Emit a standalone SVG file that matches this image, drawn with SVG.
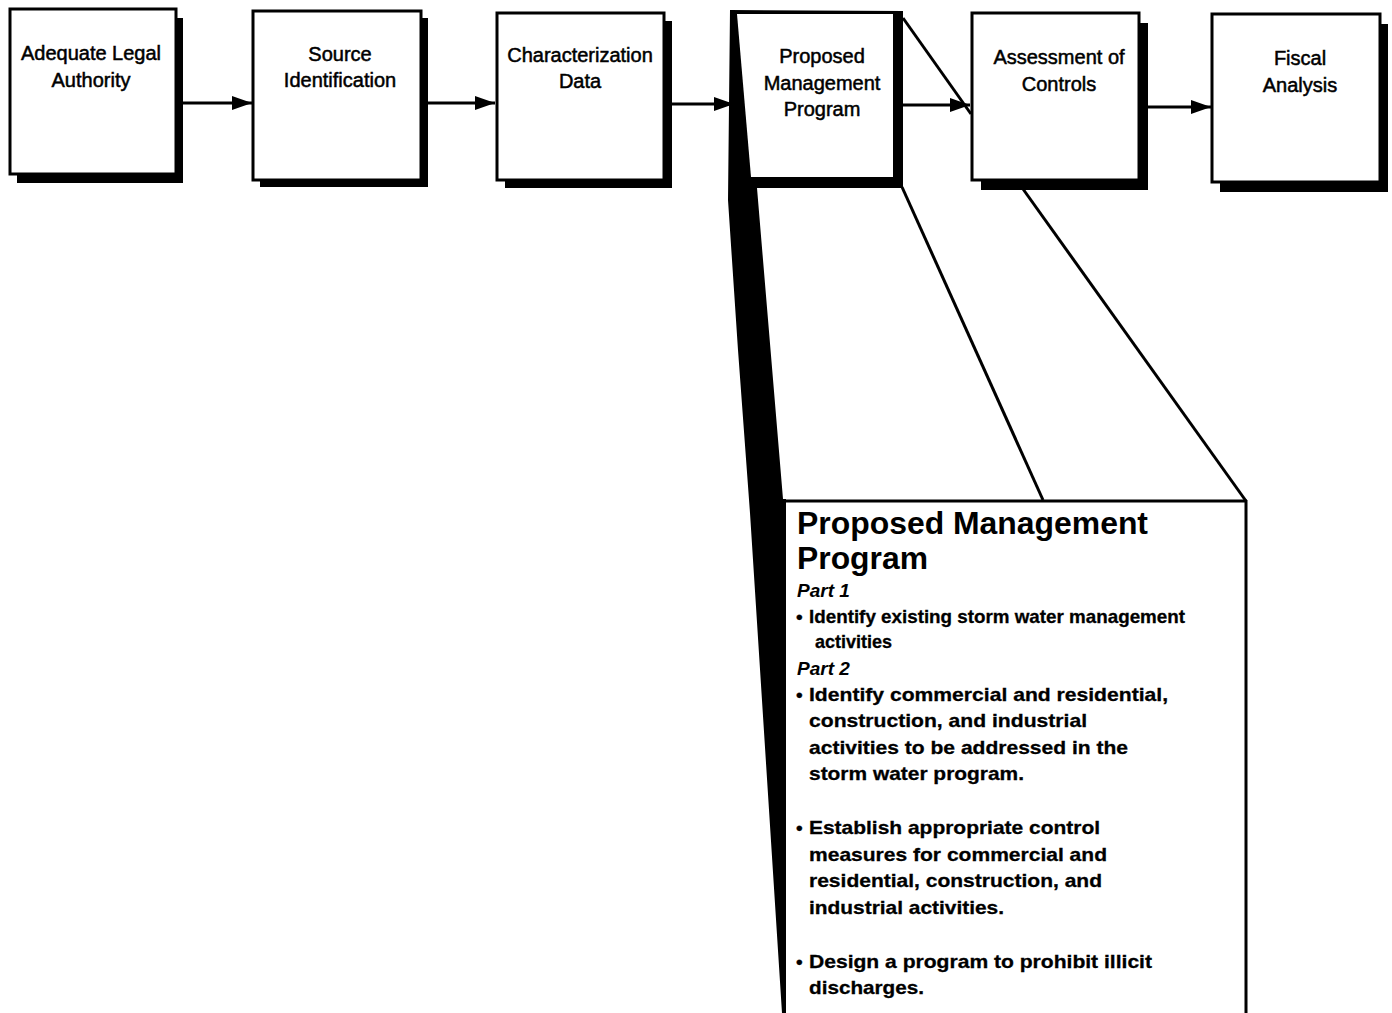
<svg xmlns="http://www.w3.org/2000/svg" width="1392" height="1013" viewBox="0 0 1392 1013">
<style>
  .shadow { fill: #000; }
  .box { fill: #fff; stroke: #000; stroke-width: 3; }
  .lbl { font-family: "Liberation Sans", Arial, sans-serif; font-size: 20px; fill: #000; stroke: #000; stroke-width: 0.5; text-anchor: middle; }
  .conn { stroke: #000; stroke-width: 3; fill: none; }
  .callout { stroke: #000; stroke-width: 3; fill: none; }
  .h { font-family: "Liberation Sans", Arial, sans-serif; font-size: 31px; font-weight: bold; fill: #000; }
  .part { font-family: "Liberation Sans", Arial, sans-serif; font-size: 19px; font-weight: bold; font-style: italic; fill: #000; }
  .body { font-family: "Liberation Sans", Arial, sans-serif; font-size: 19px; font-weight: bold; fill: #000; stroke: #000; stroke-width: 0.3; }
</style>
<defs>
  <marker id="arrow" viewBox="0 0 20 14" refX="20" refY="7" markerWidth="20" markerHeight="14" markerUnits="userSpaceOnUse" orient="auto">
    <path d="M0,0 L20,7 L0,14 z" fill="#000"/>
  </marker>
</defs>
<rect width="1392" height="1013" fill="#fff"/>

<g id="connectors">
  <line class="conn" x1="183" y1="103" x2="252" y2="103" marker-end="url(#arrow)"/>
  <line class="conn" x1="428" y1="103" x2="495" y2="103" marker-end="url(#arrow)"/>
  <line class="conn" x1="672" y1="104" x2="734" y2="104" marker-end="url(#arrow)"/>
  <line class="conn" x1="903" y1="105" x2="970" y2="105" marker-end="url(#arrow)"/>
  <line class="conn" x1="1148" y1="107" x2="1211" y2="107" marker-end="url(#arrow)"/>
</g>

<g id="callout-lines">
  <line class="callout" x1="903" y1="18" x2="971" y2="114"/>
  <line class="callout" x1="902" y1="187" x2="1043" y2="500"/>
  <line class="callout" x1="1023" y1="189" x2="1246" y2="501"/>
</g>

<g id="node-adequate-legal-authority">
  <rect class="shadow" x="17" y="18" width="166" height="165"/>
  <rect class="box" x="10" y="9" width="166" height="165"/>
  <text class="lbl" x="91" y="60">Adequate Legal</text>
  <text class="lbl" x="91" y="87">Authority</text>
</g>

<g id="node-source-identification">
  <rect class="shadow" x="260" y="18" width="168" height="169"/>
  <rect class="box" x="253" y="11" width="168" height="169"/>
  <text class="lbl" x="340" y="61">Source</text>
  <text class="lbl" x="340" y="87">Identification</text>
</g>

<g id="node-characterization-data">
  <rect class="shadow" x="505" y="21" width="167" height="167"/>
  <rect class="box" x="497" y="13" width="167" height="167"/>
  <text class="lbl" x="580" y="62">Characterization</text>
  <text class="lbl" x="580" y="88">Data</text>
</g>

<g id="node-proposed-management-program">
  <polygon fill="#000" points="730,10 903,11 903,188 757,188 783,499 786,499 786,1013 782,1013 750,513 738,350 728,200"/>
  <polygon fill="#fff" points="737,14 893,14 893,177 751,177"/>
  <text class="lbl" x="822" y="63">Proposed</text>
  <text class="lbl" x="822" y="90">Management</text>
  <text class="lbl" x="822" y="116">Program</text>
</g>

<g id="node-assessment-of-controls">
  <rect class="shadow" x="981" y="23" width="167" height="167"/>
  <rect class="box" x="972" y="13" width="167" height="167"/>
  <text class="lbl" x="1059" y="64">Assessment of</text>
  <text class="lbl" x="1059" y="91">Controls</text>
</g>

<g id="node-fiscal-analysis">
  <rect class="shadow" x="1220" y="24" width="168" height="168"/>
  <rect class="box" x="1212" y="14" width="168" height="168"/>
  <text class="lbl" x="1300" y="65">Fiscal</text>
  <text class="lbl" x="1300" y="92">Analysis</text>
</g>

<g id="node-proposed-management-detail">
  <line class="callout" x1="783" y1="501" x2="1247" y2="501"/>
  <line class="callout" x1="1246" y1="500" x2="1246" y2="1013"/>
  <text class="h" x="797" y="534" textLength="351" lengthAdjust="spacingAndGlyphs">Proposed Management</text>
  <text class="h" x="797" y="569" textLength="131" lengthAdjust="spacingAndGlyphs">Program</text>
  <text class="part" x="797" y="597">Part 1</text>
  <text class="body" x="796" y="623">•</text>
  <text class="body" x="809" y="623" textLength="376" lengthAdjust="spacingAndGlyphs">Identify existing storm water management</text>
  <text class="body" x="815" y="648" textLength="77" lengthAdjust="spacingAndGlyphs">activities</text>
  <text class="part" x="797" y="675">Part 2</text>
  <text class="body" x="796" y="701">•</text>
  <text class="body" x="809" y="701" textLength="359" lengthAdjust="spacingAndGlyphs">Identify commercial and residential,</text>
  <text class="body" x="809" y="727" textLength="278" lengthAdjust="spacingAndGlyphs">construction, and industrial</text>
  <text class="body" x="809" y="754" textLength="319" lengthAdjust="spacingAndGlyphs">activities to be addressed in the</text>
  <text class="body" x="809" y="780" textLength="215" lengthAdjust="spacingAndGlyphs">storm water program.</text>
  <text class="body" x="796" y="834">•</text>
  <text class="body" x="809" y="834" textLength="291" lengthAdjust="spacingAndGlyphs">Establish appropriate control</text>
  <text class="body" x="809" y="861" textLength="298" lengthAdjust="spacingAndGlyphs">measures for commercial and</text>
  <text class="body" x="809" y="887" textLength="293" lengthAdjust="spacingAndGlyphs">residential, construction, and</text>
  <text class="body" x="809" y="914" textLength="195" lengthAdjust="spacingAndGlyphs">industrial activities.</text>
  <text class="body" x="796" y="968">•</text>
  <text class="body" x="809" y="968" textLength="343" lengthAdjust="spacingAndGlyphs">Design a program to prohibit illicit</text>
  <text class="body" x="809" y="994" textLength="115" lengthAdjust="spacingAndGlyphs">discharges.</text>
</g>
</svg>
